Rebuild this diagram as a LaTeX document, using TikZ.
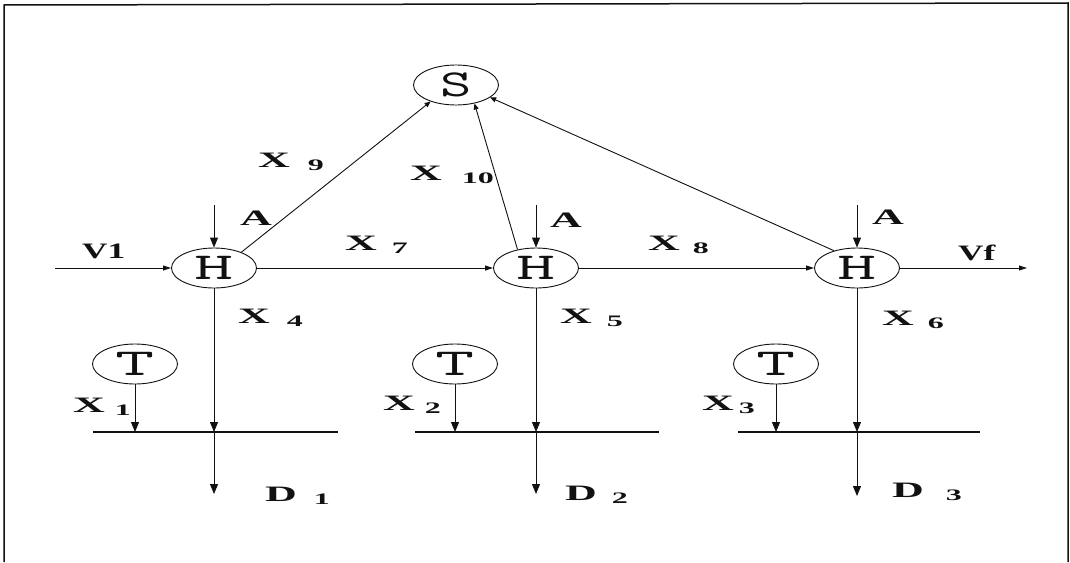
\documentclass[tikz,border=0pt]{standalone}
\usepackage{fontspec}
\setmainfont{Liberation Serif}
\usetikzlibrary{arrows.meta,shapes.geometric}
\definecolor{ink}{HTML}{111111}
\newcommand{\widen}[2][2]{\scalebox{#1}[1]{#2}}
\newcommand{\flowlab}[3]{\widen{#1\hspace{#2}\raisebox{-3pt}{\fontsize{16}{16}\selectfont #3}}}

\begin{document}
\begin{tikzpicture}[
  x=1pt,y=-1pt,
  line cap=butt,line join=miter,
  unit/.style={ellipse,draw=ink,line width=.9pt,minimum width=85pt,
               minimum height=40pt,inner sep=0pt,text height=23pt,text depth=0pt,
               font=\ttfamily\fontsize{38}{38}\selectfont,text=ink},
  lab/.style={anchor=base west,inner sep=0pt,text=ink,
              font=\fontsize{22}{22}\selectfont\bfseries},
  flow/.style={-{Triangle[width=5pt,length=8pt]},line width=1pt,draw=ink},
  feed/.style={-{Triangle[width=5pt,length=6pt]},line width=.9pt,draw=ink},
  drop/.style={-{Triangle[width=8pt,length=10pt]},line width=1pt,draw=ink},
  level/.style={draw=ink,line width=1.1pt}
]
\useasboundingbox (0,0) rectangle (1070,562);
\draw[ink,line width=1.5pt] (4,562) -- (4,5) -- (1068,3) -- (1068,562);

% units
\node[unit] (S) at (456,85) {\widen[1.6]{S}};
\node[unit] (H1) at (214,268) {\widen[2]{H}};
\node[unit] (H2) at (536,268) {\widen[2]{H}};
\node[unit] (H3) at (857,268) {\widen[2]{H}};
\node[unit] (T1) at (135,364) {\widen[2]{T}};
\node[unit] (T2) at (455,364) {\widen[2]{T}};
\node[unit] (T3) at (776,364) {\widen[2]{T}};

% main stream
\coordinate (vin) at (55,268);
\coordinate (vout) at (1027,268);
\draw[flow] (vin) -- (H1);
\draw[flow] (H1) -- (H2);
\draw[flow] (H2) -- (H3);
\draw[flow] (H3) -- (vout);

% inputs A
\coordinate (a1) at (214,205);
\coordinate (a2) at (536,205);
\coordinate (a3) at (857,205);
\draw[drop] (a1) -- (H1);
\draw[drop] (a2) -- (H2);
\draw[drop] (a3) -- (H3);

% to S
\draw[feed] (H1.30) -- (S.213);
\draw[feed] (H2.135) -- (S.-45);
\draw[feed] (H3.143) -- (S.-20);

% levels
\coordinate (l1a) at (93,432);  \coordinate (l1b) at (338,432);
\coordinate (l2a) at (415,432); \coordinate (l2b) at (659,432);
\coordinate (l3a) at (738,432); \coordinate (l3b) at (980,432);
\draw[level] (l1a) -- (l1b);
\draw[level] (l2a) -- (l2b);
\draw[level] (l3a) -- (l3b);

% drops D
\coordinate (j1) at (214,432); \coordinate (d1) at (214,494);
\coordinate (j2) at (536,432); \coordinate (d2) at (536,494);
\coordinate (j3) at (857,432); \coordinate (d3) at (857,496);
\draw[drop] (H1) -- (j1);
\draw[drop] (j1) -- (d1);
\draw[drop] (H2) -- (j2);
\draw[drop] (j2) -- (d2);
\draw[drop] (H3) -- (j3);
\draw[drop] (j3) -- (d3);

% T feeds
\coordinate (k1) at (T1.south |- l1a);
\coordinate (k2) at (T2.south |- l2a);
\coordinate (k3) at (T3.south |- l3a);
\draw[drop] (T1) -- (k1);
\draw[drop] (T2) -- (k2);
\draw[drop] (T3) -- (k3);

% labels
\node[lab] (v1l) at (82,258) {\widen[1.6]{V1}};
\node[lab] (vfl) at (958,260) {\widen[1.6]{Vf}};
\node[lab] (a1l) at (240,225) {\widen{A}};
\node[lab] (a2l) at (550,227) {\widen{A}};
\node[lab] (a3l) at (872,224) {\widen{A}};
\node[lab] (x9) at (258,167) {\flowlab{X}{9pt}{9}};
\node[lab] (x10) at (410,180) {\flowlab{X}{10pt}{10}};
\node[lab] (x7) at (345,250) {\flowlab{X}{7.5pt}{7}};
\node[lab] (x8) at (648,250) {\flowlab{X}{6.5pt}{8}};
\node[lab] (x4) at (238,323) {\flowlab{X}{8.5pt}{4}};
\node[lab] (x5) at (560,323) {\flowlab{X}{7.5pt}{5}};
\node[lab] (x6) at (882,325) {\flowlab{X}{7pt}{6}};
\node[lab] (x1) at (73,412) {\flowlab{X}{5pt}{1}};
\node[lab] (x2) at (383,410) {\flowlab{X}{5pt}{2}};
\node[lab] (x3) at (702,410) {\flowlab{X}{2.5pt}{3}};
\node[lab] (dl1) at (265,501) {\flowlab{D}{8.5pt}{1}};
\node[lab] (dl2) at (565,500) {\flowlab{D}{7.5pt}{2}};
\node[lab] (dl3) at (892,497) {\flowlab{D}{11pt}{3}};
\end{tikzpicture}
\end{document}
